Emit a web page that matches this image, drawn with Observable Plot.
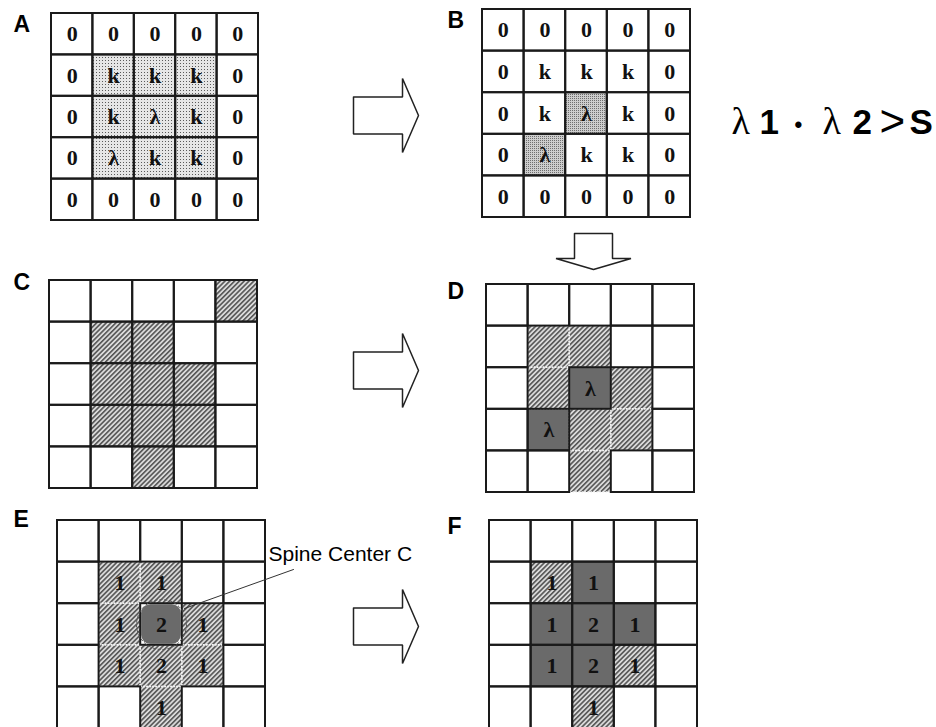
<!DOCTYPE html>
<html><head><meta charset="utf-8">
<script src="https://cdn.jsdelivr.net/npm/d3@7"></script>
<script src="https://cdn.jsdelivr.net/npm/@observablehq/plot@0.6"></script>
<style>body{margin:0;background:#fff}</style>
</head><body><div id="chart"></div>
<script>
// ---- data: cell contents and cell fills of each 5x5 panel ----
const panelNames = ["A","B","C","D","E","F"];
const textA = ["00000","0kkk0","0kλk0","0λkk0","00000"];
const fillA = [".....",".sss.",".sss.",".sss.","....."];
const textB = ["00000","0kkk0","0kλk0","0λkk0","00000"];
const fillB = [".....",".....","..t..",".t...","....."];
const textC = [".....",".....",".....",".....","....."];
const fillC = ["....h",".hh..",".hhh.",".hhh.","..h.."];
const textD = [".....",".....","..λ..",".λ...","....."];
const fillD = [".....",".hh..",".hdh.",".dhh.","..h.."];
const textE = [".....",".11..",".121.",".121.","..1.."];
const fillE = [".....",".hh..",".hrh.",".hhh.","..h.."];
const textF = [".....",".11..",".121.",".121.","..1.."];
const fillF = [".....",".hd..",".ddd.",".ddh.","..h.."];
const formulaTokens = ["λ","1","•","λ","2",">","S"];
const noteText = "Spine Center C";

// ---- layout (pixels) ----
const W = 936, H = 727;
const layout = {
  A:{x:51,y:13,s:207}, B:{x:482,y:9,s:208}, C:{x:49,y:280,s:208},
  D:{x:486,y:284,s:208}, E:{x:57,y:520,s:208}, F:{x:489,y:520,s:208}
};
const labelPos = {A:[13,31],B:[447,27],C:[13,289],D:[447,298],E:[13,526],F:[447,533]};
const texts = {A:textA,B:textB,C:textC,D:textD,E:textE,F:textF};
const fills = {A:fillA,B:fillB,C:fillC,D:fillD,E:fillE,F:fillF};
const dottedPanels = new Set(["D","E"]);

const cells = [];
for (const p of panelNames) {
  const L = layout[p], cs = L.s / 5;
  for (let r = 0; r < 5; r++) for (let c = 0; c < 5; c++) {
    const t = texts[p][r][c], f = fills[p][r][c];
    cells.push({p, r, c, t: t === "." ? "" : t, f,
      x1: L.x + c*cs, x2: L.x + (c+1)*cs, y1: L.y + r*cs, y2: L.y + (r+1)*cs,
      cx: L.x + (c+0.5)*cs, cy: L.y + (r+0.5)*cs});
  }
}
const labels = panelNames.map(p => ({p, x: labelPos[p][0], y: labelPos[p][1]}));

// arrows: block arrows between panels
const rightArrows = [{id:"ab", cy:115}, {id:"cd", cy:370}, {id:"ef", cy:626}];
const arrowPts = [];
for (const a of rightArrows) {
  const x0 = 353, xb = 402, tip = 418, sh = 18.5, hh = 37;
  [[x0,a.cy-sh],[xb,a.cy-sh],[xb,a.cy-hh],[tip,a.cy],[xb,a.cy+hh],[xb,a.cy+sh],[x0,a.cy+sh],[x0,a.cy-sh]]
    .forEach(([x,y]) => arrowPts.push({id:a.id, x, y}));
}
{
  const cx = 593, y0 = 233, yb = 258, tip = 269, sh = 19, hh = 37.5;
  [[cx-sh,y0],[cx+sh,y0],[cx+sh,yb],[cx+hh,yb],[cx,tip],[cx-hh,yb],[cx-sh,yb],[cx-sh,y0]]
    .forEach(([x,y]) => arrowPts.push({id:"bd", x, y}));
}

// spine centre marker in E (row 2, col 2)
const spineCell = cells.find(d => d.p === "E" && d.r === 2 && d.c === 2);
const leader = [{x: spineCell.cx + 23, y: spineCell.cy - 16}, {x: 293, y: 569}];

// formula tokens
const fx = [731, 759, 794, 822, 852, 879, 909];
const formula = formulaTokens.map((t,i) => ({t, x: fx[i], i}));
const serifTok = formula.filter(d => d.t === "λ");
const boldTok = formula.filter(d => ["1","2","S"].includes(d.t));
const dotTok = formula.filter(d => d.t === "•");
const gtTok = formula.filter(d => d.t === ">");

const serif = "'Liberation Serif','Times New Roman',serif";
const sans = "'Liberation Sans',Arial,sans-serif";

const solidCells = cells.filter(d => !(dottedPanels.has(d.p) && d.f === "h"));
const dottedCells = cells.filter(d => dottedPanels.has(d.p) && d.f === "h");

const chart = Plot.plot({
  width: W, height: H, margin: 0,
  x: {domain: [0, W], range: [0, W], axis: null},
  y: {domain: [0, H], range: [0, H], axis: null},
  style: {background: "white"},
  marks: [
    Plot.rect(cells.filter(d => d.f === "." || d.f === "r"), {x1:"x1",x2:"x2",y1:"y1",y2:"y2", fill:"white"}),
    Plot.rect(cells.filter(d => d.f === "s"), {x1:"x1",x2:"x2",y1:"y1",y2:"y2", fill:"url(#stip)"}),
    Plot.rect(cells.filter(d => d.f === "t"), {x1:"x1",x2:"x2",y1:"y1",y2:"y2", fill:"url(#stip2)"}),
    Plot.rect(cells.filter(d => d.f === "h"), {x1:"x1",x2:"x2",y1:"y1",y2:"y2", fill:"url(#hatch)"}),
    Plot.rect(cells.filter(d => d.f === "d"), {x1:"x1",x2:"x2",y1:"y1",y2:"y2", fill:"#6a6a6a"}),
    Plot.rect(cells.filter(d => d.f === "r"), {x1:"x1",x2:"x2",y1:"y1",y2:"y2", fill:"#6a6a6a", rx: 9, inset: 1}),
    Plot.rect(dottedCells, {x1:"x1",x2:"x2",y1:"y1",y2:"y2", fill:"none", stroke:"#f4f4f4", strokeWidth:1.5, strokeDasharray:"1.5,1.5"}),
    Plot.rect(solidCells, {x1:"x1",x2:"x2",y1:"y1",y2:"y2", fill:"none", stroke:"#1a1a1a", strokeWidth:2}),
    Plot.text(cells.filter(d => d.t), {x:"cx", y:"cy", text:"t", fontFamily: serif, fontWeight:"bold", fontSize:22, fill:"#111"}),
    Plot.text(labels, {x:"x", y:"y", text:"p", textAnchor:"start", lineAnchor:"bottom", fontFamily: sans, fontWeight:"bold", fontSize:23, fill:"#000"}),
    Plot.line(arrowPts, {x:"x", y:"y", z:"id", fill:"white", stroke:"#222", strokeWidth:1.5, strokeLinejoin:"miter"}),
    Plot.dot([spineCell], {x:"cx", y:"cy", r:25, stroke:"#555", strokeWidth:1, strokeDasharray:"3,2", fill:"none"}),
    Plot.line(leader, {x:"x", y:"y", stroke:"#333", strokeWidth:1}),
    Plot.text([noteText], {x:268, y:560, text: d => d, textAnchor:"start", lineAnchor:"bottom", fontFamily: sans, fontSize:21, fill:"#000"}),
    Plot.text(serifTok, {x:"x", y:133, text:"t", textAnchor:"start", lineAnchor:"bottom", fontFamily: serif, fontSize:38, fill:"#000"}),
    Plot.text(boldTok, {x:"x", y:133, text:"t", textAnchor:"start", lineAnchor:"bottom", fontFamily: sans, fontWeight:"bold", fontSize:35, fill:"#000"}),
    Plot.text(dotTok, {x:"x", y:131, text:"t", textAnchor:"start", lineAnchor:"bottom", fontFamily: sans, fontWeight:"bold", fontSize:22, fill:"#000"}),
    Plot.text(gtTok, {x:"x", y:135, text:"t", textAnchor:"start", lineAnchor:"bottom", fontFamily: sans, fontSize:44, fill:"#000"})
  ]
});

d3.select(chart).insert("defs", ":first-child").html(`
  <pattern id="stip" width="3" height="3" patternUnits="userSpaceOnUse">
    <rect width="3" height="3" fill="#e6e6e6"/><rect width="1" height="1" fill="#5a5a5a"/>
  </pattern>
  <pattern id="stip2" width="2" height="2" patternUnits="userSpaceOnUse">
    <rect width="2" height="2" fill="#cdcdcd"/><rect width="1" height="1" fill="#6e6e6e"/>
  </pattern>
  <pattern id="hatch" width="3.4" height="3.4" patternUnits="userSpaceOnUse" patternTransform="rotate(45)">
    <rect width="3.4" height="3.4" fill="#dadada"/><rect width="1.6" height="3.4" fill="#555555"/>
  </pattern>`);

document.getElementById("chart").appendChild(chart);
</script>
</body></html>
